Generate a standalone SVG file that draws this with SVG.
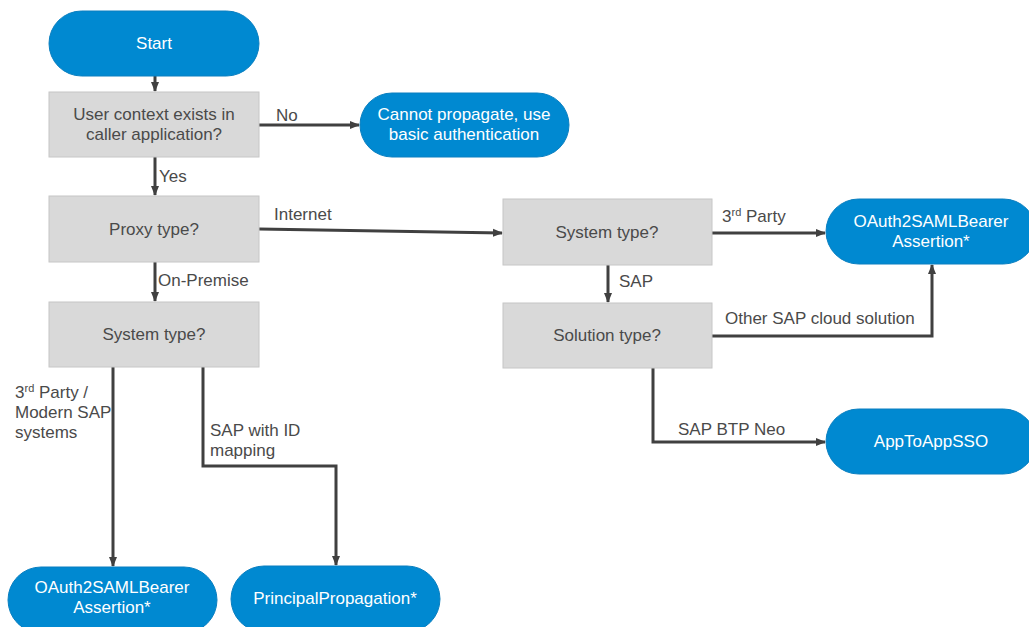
<svg xmlns="http://www.w3.org/2000/svg" width="1029" height="627" viewBox="0 0 1029 627">
<defs>
<style>
.pill{fill:#0089d1;stroke:#0a7fc0;stroke-width:1}
.box{fill:#d9d9d9;stroke:#c6c6c6;stroke-width:1}
.wt{fill:#ffffff;font-family:"Liberation Sans",Arial,sans-serif;font-size:17px;text-anchor:middle}
.gt{fill:#4a4a4a;font-family:"Liberation Sans",Arial,sans-serif;font-size:17px;text-anchor:middle}
.lb{fill:#4a4a4a;font-family:"Liberation Sans",Arial,sans-serif;font-size:17px}
.ln{fill:none;stroke:#404040;stroke-width:3}
.sup{font-size:11px}
</style>
<marker id="ah" markerWidth="10" markerHeight="10" refX="9" refY="5" orient="auto" markerUnits="userSpaceOnUse">
<path d="M0,1 L10,5 L0,9 Z" fill="#404040"/>
</marker>
</defs>
<rect width="1029" height="627" fill="#ffffff"/>

<g id="connectors">
<path class="ln" d="M155,76 V91" marker-end="url(#ah)"/>
<path class="ln" d="M259,125 H359" marker-end="url(#ah)"/>
<path class="ln" d="M155,157 V195" marker-end="url(#ah)"/>
<path class="ln" d="M259,229 L502,233" marker-end="url(#ah)"/>
<path class="ln" d="M712,233 H825" marker-end="url(#ah)"/>
<path class="ln" d="M608,265 V302" marker-end="url(#ah)"/>
<path class="ln" d="M712,336 H932 V265" marker-end="url(#ah)"/>
<path class="ln" d="M653,368 V442 H825" marker-end="url(#ah)"/>
<path class="ln" d="M155,262 V301" marker-end="url(#ah)"/>
<path class="ln" d="M113,367 V566" marker-end="url(#ah)"/>
<path class="ln" d="M203,367 V466 H336 V565" marker-end="url(#ah)"/>
<text class="lb" x="276" y="121">No</text>
<text class="lb" x="159" y="182">Yes</text>
<text class="lb" x="274" y="220">Internet</text>
<text class="lb" x="158" y="286">On-Premise</text>
<text class="lb" x="722" y="222">3<tspan class="sup" dy="-6">rd</tspan><tspan dy="6"> Party</tspan></text>
<text class="lb" x="619" y="287">SAP</text>
<text class="lb" x="725" y="324">Other SAP cloud solution</text>
<text class="lb" x="678" y="435">SAP BTP Neo</text>
<text class="lb" x="15" y="398">3<tspan class="sup" dy="-6">rd</tspan><tspan dy="6"> Party /</tspan></text>
<text class="lb" x="15" y="418">Modern SAP</text>
<text class="lb" x="15" y="438">systems</text>
<text class="lb" x="210" y="436">SAP with ID</text>
<text class="lb" x="210" y="456">mapping</text>
</g>

<g id="start">
<rect class="pill" x="49" y="11" width="210" height="65" rx="32.5"/>
<text class="wt" x="154" y="49">Start</text>
</g>
<g id="user-context">
<rect class="box" x="49" y="92" width="210" height="65"/>
<text class="gt" x="154" y="120">User context exists in</text>
<text class="gt" x="154" y="140">caller application?</text>
</g>
<g id="cannot-propagate">
<rect class="pill" x="360" y="93" width="209" height="64" rx="32"/>
<text class="wt" x="464" y="120">Cannot propagate, use</text>
<text class="wt" x="464" y="140">basic authentication</text>
</g>
<g id="proxy-type">
<rect class="box" x="49" y="196" width="210" height="66"/>
<text class="gt" x="154" y="235">Proxy type?</text>
</g>
<g id="system-type-right">
<rect class="box" x="503" y="199" width="209" height="66"/>
<text class="gt" x="607" y="238">System type?</text>
</g>
<g id="oauth-right">
<rect class="pill" x="826" y="199" width="210" height="65" rx="32.5"/>
<text class="wt" x="931" y="227">OAuth2SAMLBearer</text>
<text class="wt" x="931" y="247">Assertion*</text>
</g>
<g id="solution-type">
<rect class="box" x="503" y="303" width="209" height="65"/>
<text class="gt" x="607" y="341">Solution type?</text>
</g>
<g id="apptoappsso">
<rect class="pill" x="826" y="409" width="210" height="65" rx="32.5"/>
<text class="wt" x="931" y="447">AppToAppSSO</text>
</g>
<g id="system-type-left">
<rect class="box" x="49" y="302" width="210" height="65"/>
<text class="gt" x="154" y="340">System type?</text>
</g>
<g id="oauth-left">
<rect class="pill" x="8" y="567" width="209" height="66" rx="33"/>
<text class="wt" x="112" y="593">OAuth2SAMLBearer</text>
<text class="wt" x="112" y="613">Assertion*</text>
</g>
<g id="principal-propagation">
<rect class="pill" x="231" y="566" width="209" height="66" rx="33"/>
<text class="wt" x="335" y="604">PrincipalPropagation*</text>
</g>
</svg>
